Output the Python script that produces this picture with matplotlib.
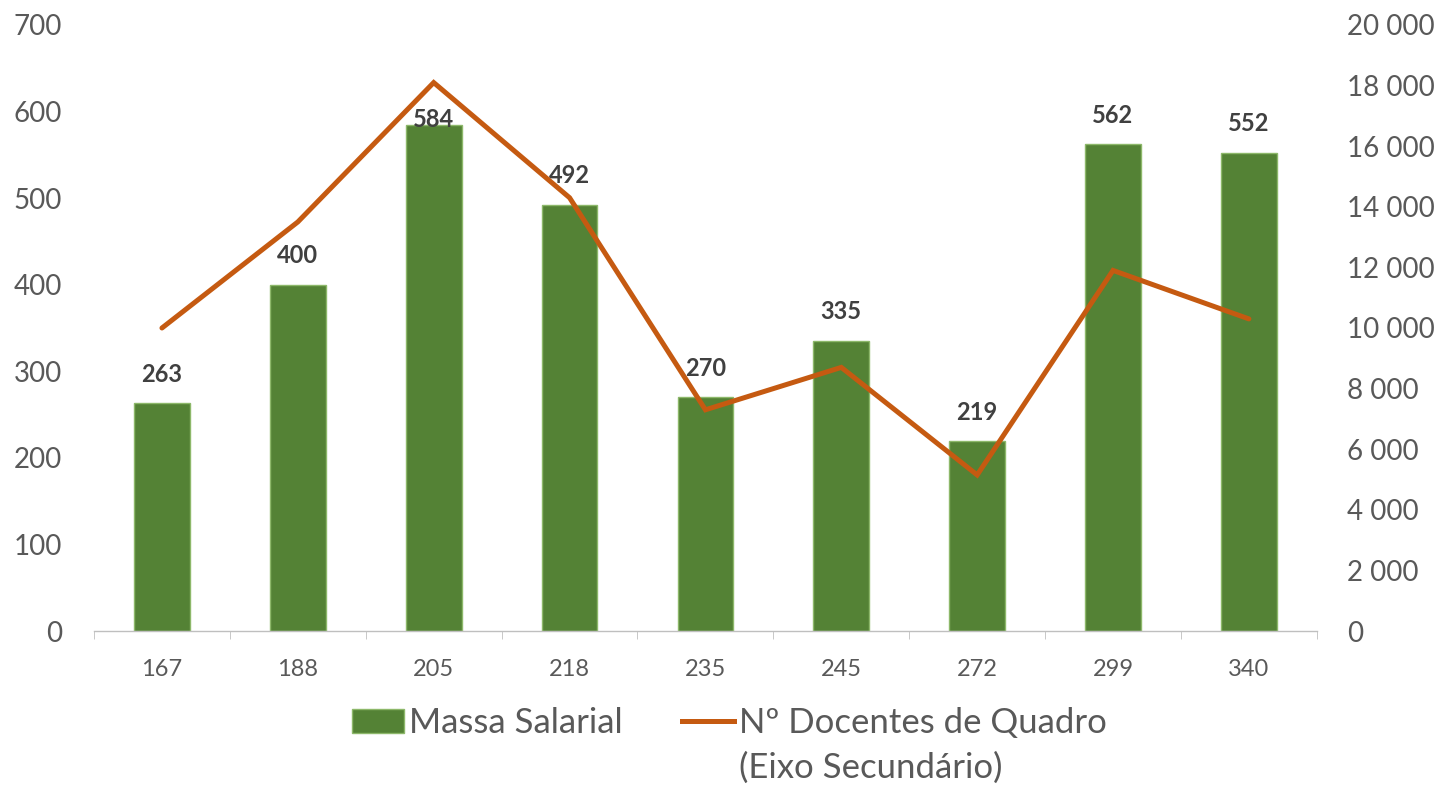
import matplotlib.pyplot as plt
import numpy as np
from matplotlib.lines import Line2D
from matplotlib.patches import Patch

plt.rcParams["font.family"] = ["Lato", "DejaVu Sans"]

categories = ["167", "188", "205", "218", "235", "245", "272", "299", "340"]
massa_salarial = [263, 400, 584, 492, 270, 335, 219, 562, 552]
docentes = [10000, 13500, 18100, 14300, 7300, 8700, 5150, 11900, 10300]
left_ticks = [0, 100, 200, 300, 400, 500, 600, 700]
right_ticks = [0, 2000, 4000, 6000, 8000, 10000, 12000, 14000, 16000, 18000, 20000]

GREEN = "#548235"
ORANGE = "#C55A11"
GREY = "#595959"

fig = plt.figure(figsize=(14.42, 7.86), dpi=100)
ax = fig.add_axes([0.0652, 0.1972, 0.848, 0.771])
ax2 = ax.twinx()

x = np.arange(len(categories))
ax.bar(x, massa_salarial, width=0.41, color=GREEN, edgecolor="#8DB86A", linewidth=1, zorder=2)
for xi, v in zip(x, massa_salarial):
    # labels that would run into the top get pulled down onto the bar end
    off = 21 if v + 34 < 605 else 4
    ax.annotate(str(v), (xi, v), xytext=(0, off), textcoords="offset points",
                ha="center", va="center", fontsize=17, fontweight="bold", color="#404040")

ax2.plot(x, docentes, color=ORANGE, linewidth=3.6, solid_capstyle="round", solid_joinstyle="miter", zorder=3)

ax.set_xlim(-0.5, len(categories) - 0.5)
ax.set_ylim(0, 700)
ax2.set_ylim(0, 20000)
ax.set_yticks(left_ticks)
ax2.set_yticks(right_ticks)
ax2.set_yticklabels([f"{t:,}".replace(",", " ") for t in right_ticks])
ax.set_xticks(x)
ax.set_xticklabels(categories)
ax.set_xticks(np.arange(-0.5, len(categories)), minor=True)

for a in (ax, ax2):
    for s in a.spines.values():
        s.set_visible(False)
ax.spines["bottom"].set_visible(True)
ax.spines["bottom"].set_color("#BFBFBF")
ax.spines["bottom"].set_linewidth(1)

ax.tick_params(axis="y", length=0, labelsize=20, labelcolor=GREY, pad=23)
ax2.tick_params(axis="y", length=0, labelsize=20, labelcolor=GREY, pad=22)
ax.tick_params(axis="x", which="major", length=0, labelsize=17, labelcolor=GREY, pad=20)
ax.tick_params(axis="x", which="minor", length=6, color="#BFBFBF", direction="out")

# legend: second entry wraps onto a line under its own text
handles = [
    Patch(facecolor=GREEN, edgecolor="#8DB86A"),
    Line2D([0], [0], color=ORANGE, linewidth=3.6),
]
labels = ["Massa Salarial", "Nº Docentes de Quadro"]
leg = fig.legend(handles, labels, loc="center", bbox_to_anchor=(0.506, 1 - 723 / 786), ncol=2,
                 frameon=False, fontsize=25, labelcolor=GREY, handlelength=1.5,
                 handletextpad=0.15, columnspacing=1.7, borderpad=0)

fig.canvas.draw()
bb = leg.get_texts()[1].get_window_extent()
fig.text(bb.x0 / fig.bbox.width, (bb.y0 - 45) / fig.bbox.height + bb.height / 2 / fig.bbox.height,
         "(Eixo Secundário)", fontsize=25, color=GREY, ha="left", va="center")

fig.savefig("out.png", dpi=100)
